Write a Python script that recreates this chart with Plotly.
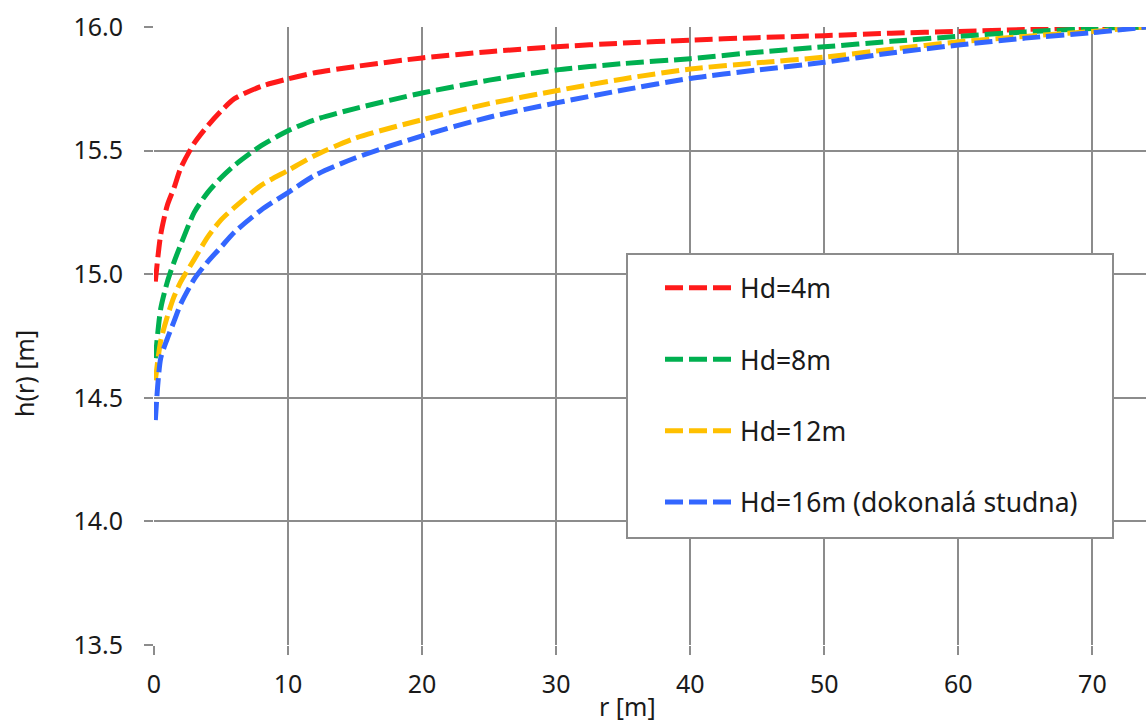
import plotly.graph_objects as go

r = [0.1, 0.5, 1, 1.5, 2, 3, 4, 5, 6, 8, 10, 12, 15, 20, 25, 30, 35, 40, 45, 50, 55, 60, 65, 70, 74]

h_hd4 = [14.97, 15.16, 15.28, 15.35, 15.43, 15.53, 15.60, 15.66, 15.71, 15.76, 15.79, 15.815, 15.84,
         15.875, 15.90, 15.92, 15.935, 15.947, 15.957, 15.965, 15.975, 15.982, 15.99, 15.997, 16.0]
h_hd8 = [14.66, 14.86, 14.97, 15.05, 15.12, 15.25, 15.33, 15.39, 15.44, 15.52, 15.58, 15.625, 15.67,
         15.733, 15.785, 15.826, 15.852, 15.872, 15.898, 15.92, 15.942, 15.962, 15.98, 15.994, 16.0]
h_hd12 = [14.57, 14.73, 14.83, 14.91, 14.97, 15.06, 15.15, 15.22, 15.27, 15.36, 15.42, 15.48, 15.55,
          15.625, 15.69, 15.742, 15.79, 15.83, 15.855, 15.878, 15.91, 15.94, 15.962, 15.982, 16.0]
h_hd16 = [14.41, 14.66, 14.74, 14.81, 14.88, 14.98, 15.05, 15.11, 15.17, 15.26, 15.33, 15.40, 15.47,
          15.56, 15.635, 15.693, 15.745, 15.792, 15.826, 15.857, 15.895, 15.927, 15.955, 15.977, 16.0]

names = ["Hd=4m", "Hd=8m", "Hd=12m", "Hd=16m (dokonalá studna)"]
colors = ["#ff1a1a", "#00b050", "#ffc000", "#3366ff"]
series = [h_hd4, h_hd8, h_hd12, h_hd16]

x_ticks = [0, 10, 20, 30, 40, 50, 60, 70]
y_ticks = [13.5, 14.0, 14.5, 15.0, 15.5, 16.0]

FONT = "Noto Sans"
GRID = "#8c8c8c"
PW, PH, L, B = 992, 618, 154, 79
TOP = 27


def px_x(p):
    return (p - L) / PW


def px_y(p):
    return (724 - B - p) / PH


fig = go.Figure()
for i, (name, col, ys) in enumerate(zip(names, colors, series)):
    fig.add_trace(go.Scatter(
        x=r, y=ys, mode="lines", name=name, legendgroup=f"g{i}",
        line=dict(color=col, width=5, dash="18px,6px", shape="spline", smoothing=0.7),
    ))

fig.update_layout(
    width=1146, height=724,
    margin=dict(l=L, r=0, t=TOP, b=B),
    paper_bgcolor="white", plot_bgcolor="white",
    font=dict(family=FONT, size=25, color="#1a1a1a"),
    showlegend=True,
    legend=dict(
        x=px_x(660), y=px_y(264), xanchor="left", yanchor="top",
        bgcolor="rgba(0,0,0,0)", borderwidth=0,
        font=dict(family=FONT, size=26.5, color="#1a1a1a"),
        tracegroupgap=34, itemwidth=70,
    ),
    shapes=[
        dict(type="rect", xref="paper", yref="paper",
             x0=px_x(627), x1=px_x(1113), y0=px_y(538), y1=px_y(254),
             line=dict(color="#8c8c8c", width=2), fillcolor="white", layer="above"),
    ],
    xaxis=dict(
        range=[0, 74], tickvals=x_ticks, ticktext=[str(v) for v in x_ticks],
        showgrid=True, gridcolor=GRID, gridwidth=2,
        ticks="outside", ticklen=9, tickwidth=2, tickcolor=GRID,
        showline=False, zeroline=False, ticklabelstandoff=8,
    ),
    yaxis=dict(
        range=[13.5, 16.0], tickvals=y_ticks, ticktext=[f"{v:.1f}" for v in y_ticks],
        showgrid=True, gridcolor=GRID, gridwidth=2,
        ticks="outside", ticklen=9, tickwidth=2, tickcolor=GRID,
        showline=False, zeroline=False, ticklabelstandoff=16,
    ),
    annotations=[
        dict(text="r [m]", xref="paper", yref="paper", x=px_x(627), y=px_y(706),
             showarrow=False, xanchor="center", yanchor="middle", font=dict(size=25)),
        dict(text="h(r) [m]", xref="paper", yref="paper", x=px_x(24), y=px_y(374),
             showarrow=False, xanchor="center", yanchor="middle", textangle=-90, font=dict(size=25)),
    ],
)

fig.write_html("out.html")
